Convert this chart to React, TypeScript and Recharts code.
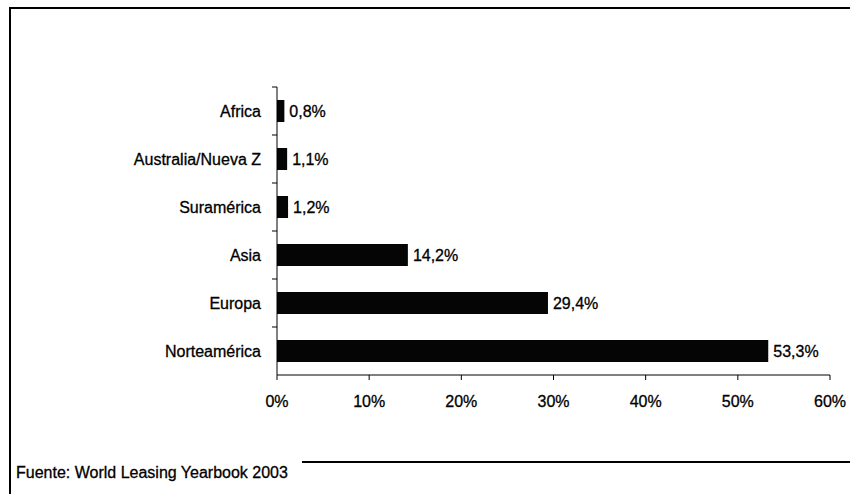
import React from 'react'
import { BarChart, Bar, XAxis, YAxis, LabelList } from 'recharts'

const regions = ['Africa', 'Australia/Nueva Z', 'Suramérica', 'Asia', 'Europa', 'Norteamérica']
const shares = [0.8, 1.1, 1.2, 14.2, 29.4, 53.3]
const xTicks = [0, 10, 20, 30, 40, 50, 60]
const source = 'Fuente: World Leasing Yearbook 2003'

const FONT = '"Liberation Sans", Arial, sans-serif'
const PLOT_TOP = 87
const PLOT_BOTTOM = 375
const BAND = (PLOT_BOTTOM - PLOT_TOP) / regions.length

const chartData = regions.map((region, i) => ({ region, share: shares[i] }))

const fmtPct = (v: number) => v.toFixed(1).replace('.', ',') + '%'

// scanned text looks a bit heavier, fake it with a thin stroke
const inkText = { fill: '#000', stroke: '#000', strokeWidth: 0.3, fontSize: 16, fontFamily: FONT }

// category label plus the excel-style tick between bands
function RegionTick(props: any) {
  const { x, y, payload } = props
  return (
    <g>
      <line x1={x - 5} x2={x} y1={y - BAND / 2} y2={y - BAND / 2} stroke="#000" />
      <text x={x - 16} y={y} dy="0.355em" textAnchor="end" {...inkText}>
        {payload.value}
      </text>
    </g>
  )
}

export default function App() {
  return (
    <div style={{ position: 'absolute', left: 0, top: 0, width: 850, height: 494, background: '#fff', fontFamily: FONT }}>
      {/* scanned frame */}
      <div style={{ position: 'absolute', left: 9, top: 8, width: 2, height: 486, background: '#000' }} />
      <div style={{ position: 'absolute', left: 9, top: 7, width: 841, height: 2, background: '#000' }} />
      <div style={{ position: 'absolute', left: 302, top: 461, width: 548, height: 2, background: '#000' }} />

      <BarChart
        width={850}
        height={494}
        data={chartData}
        layout="vertical"
        margin={{ top: PLOT_TOP, right: 20, bottom: 494 - PLOT_BOTTOM - 30, left: 0 }}
        barCategoryGap={0}
      >
        <XAxis
          type="number"
          domain={[0, 60]}
          ticks={xTicks}
          tickFormatter={(v: number) => v + '%'}
          axisLine={{ stroke: '#000' }}
          tickLine={{ stroke: '#000' }}
          tickSize={5}
          tickMargin={16}
          height={30}
          tick={inkText}
          interval={0}
        />
        <YAxis
          type="category"
          dataKey="region"
          width={277}
          axisLine={{ stroke: '#000' }}
          tickLine={false}
          tickSize={0}
          tickMargin={0}
          tick={<RegionTick />}
          interval={0}
        />
        <Bar dataKey="share" fill="#050505" barSize={22} isAnimationActive={false}>
          <LabelList
            dataKey="share"
            position="right"
            offset={5}
            formatter={(v: any) => fmtPct(Number(v))}
            style={inkText}
          />
        </Bar>
      </BarChart>

      <div style={{ position: 'absolute', left: 16, top: 463, fontSize: 16, lineHeight: '20px', color: '#000', WebkitTextStroke: '0.3px #000' }}>
        {source}
      </div>
    </div>
  )
}
